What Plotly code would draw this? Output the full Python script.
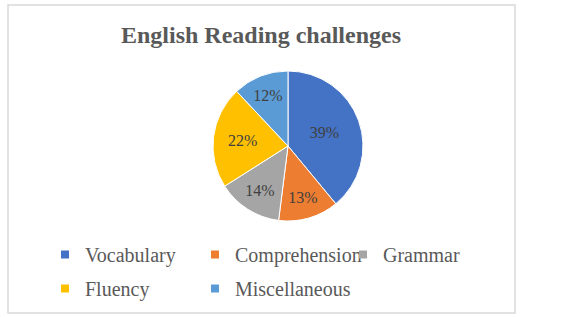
import plotly.graph_objects as go

labels = ["Vocabulary", "Comprehension", "Grammar", "Fluency", "Miscellaneous"]
values = [39, 13, 14, 22, 12]
colors = ["#4472C4", "#ED7D31", "#A5A5A5", "#FFC000", "#5B9BD5"]
legend_cols = ["legend", "legend2", "legend3", "legend", "legend2"]
title_text = "English Reading challenges"

W, H = 576, 317
cx, cy, r = 288, 146, 75

fig = go.Figure()
fig.add_trace(go.Pie(
    labels=labels,
    values=values,
    sort=False,
    direction="clockwise",
    rotation=0,
    marker=dict(colors=colors, line=dict(color="white", width=1)),
    texttemplate="%{percent:.0%}",
    textposition="inside",
    insidetextorientation="horizontal",
    textfont=dict(family="Liberation Serif", size=16, color="#404040"),
    domain=dict(x=[(cx - r) / W, (cx + r) / W], y=[(H - cy - r) / H, (H - cy + r) / H]),
    hoverinfo="label+percent",
    showlegend=False,
))

# legend entries (same labels/colours as the pie), laid out in columns
for lab, col, lg in zip(labels, colors, legend_cols):
    fig.add_trace(go.Scatter(
        x=[None], y=[None], mode="markers", name=lab, legend=lg, legendgroup=lab,
        marker=dict(symbol="square", size=8, color=col),
        hoverinfo="skip",
    ))

legend_common = dict(orientation="v", xanchor="left", yanchor="top", y=1 - 235 / H,
                     tracegroupgap=5, itemsizing="trace",
                     font=dict(family="Liberation Serif", size=20, color="#595959"),
                     bgcolor="rgba(0,0,0,0)")

fig.update_layout(
    width=W, height=H,
    margin=dict(l=0, r=0, t=0, b=0),
    paper_bgcolor="white",
    plot_bgcolor="rgba(0,0,0,0)",
    xaxis=dict(visible=False),
    yaxis=dict(visible=False),
    title=dict(text="<b>" + title_text + "</b>", x=261 / W, y=1 - 35 / H,
               xanchor="center", yanchor="middle",
               font=dict(family="Liberation Serif", size=24, color="#595959")),
    legend=dict(x=45 / W, **legend_common),
    legend2=dict(x=195 / W, **legend_common),
    legend3=dict(x=343 / W, **legend_common),
    shapes=[dict(type="rect", xref="paper", yref="paper",
                 x0=8 / W, x1=515 / W, y0=(H - 313) / H, y1=(H - 5) / H,
                 line=dict(color="#D9D9D9", width=1.5), fillcolor="rgba(0,0,0,0)")],
)

fig.write_html("out.html")
